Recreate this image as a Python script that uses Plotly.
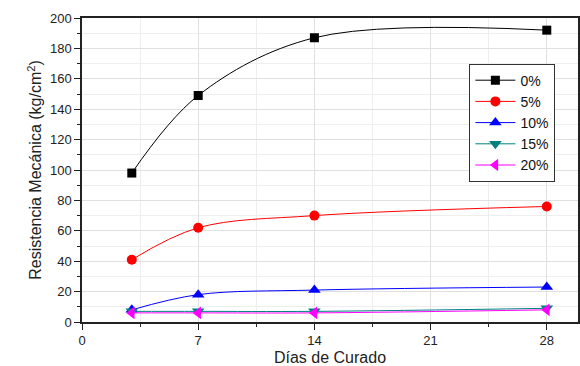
import plotly.graph_objects as go

dias = [3, 7, 14, 28]
series_names = ["0%", "5%", "10%", "15%", "20%"]
r0 = [98, 149, 187, 192]
r5 = [41, 62, 70, 76]
r10 = [8, 18, 21, 23]
r15 = [7, 7, 7, 9]
r20 = [6, 6, 6, 8]
values = [r0, r5, r10, r15, r20]
colors = ["#000000", "#ff0000", "#0000ff", "#008080", "#ff00ff"]
symbols = ["square", "circle", "triangle-up", "triangle-down", "triangle-left"]
sizes = [9, 10, 11, 11, 11]

fig = go.Figure()
for name, vals, c, s, sz in zip(series_names, values, colors, symbols, sizes):
    fig.add_trace(go.Scatter(
        x=dias, y=vals, name=name, mode="lines+markers",
        line=dict(color=c, width=1, shape="spline", smoothing=1.0),
        marker=dict(symbol=s, size=sz, color=c),
    ))

axis_font = dict(family="Liberation Sans, Arial, sans-serif", size=13, color="#222")
fig.update_layout(
    width=580, height=366,
    margin=dict(l=82, r=0, t=18, b=43),
    paper_bgcolor="white", plot_bgcolor="white",
    font=dict(family="Liberation Sans, Arial, sans-serif", color="#222"),
    showlegend=True,
    legend=dict(x=0.781, y=0.85, xanchor="left", yanchor="top",
                bordercolor="#333", borderwidth=1, bgcolor="white",
                font=dict(size=14, family="Liberation Sans, Arial, sans-serif", color="#111"),
                tracegroupgap=0, itemwidth=40),
    xaxis=dict(range=[0, 29.88], tickvals=[0, 7, 14, 21, 28], ticks="outside",
               ticklen=6, tickcolor="#222", tickfont=axis_font,
               showline=True, linecolor="#222", linewidth=1.5, mirror=True,
               showgrid=True, gridcolor="#e0e0e0", gridwidth=1,
               minor=dict(dtick=3.5, tick0=0, ticks="outside", ticklen=3, tickcolor="#222",
                          showgrid=True, gridcolor="#eeeeee"),
               title=dict(text="Días de Curado", font=dict(size=16), standoff=6),
               zeroline=False),
    yaxis=dict(range=[0, 200], tickvals=list(range(0, 201, 20)), ticks="outside",
               ticklen=6, tickcolor="#222", tickfont=axis_font,
               showline=True, linecolor="#222", linewidth=1.5, mirror=True,
               showgrid=True, gridcolor="#e0e0e0", gridwidth=1,
               minor=dict(dtick=10, tick0=0, ticks="outside", ticklen=3, tickcolor="#222",
                          showgrid=True, gridcolor="#eeeeee"),
               title=dict(text="Resistencia Mecánica (kg/cm<sup>2</sup>)", font=dict(size=16), standoff=4),
               zeroline=False),
)
fig.write_html("out.html")
